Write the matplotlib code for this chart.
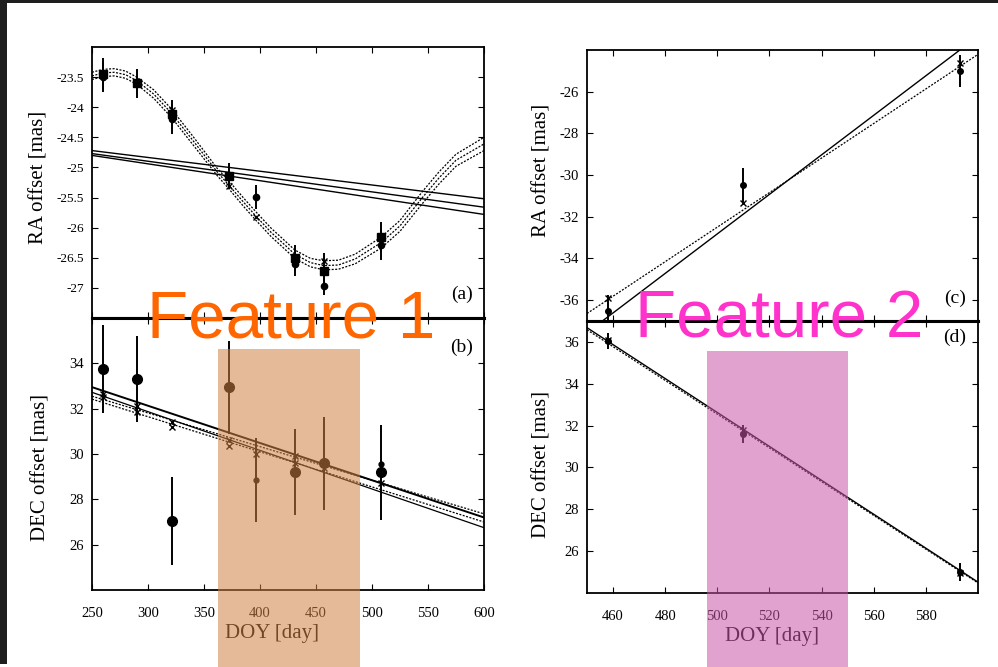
import matplotlib
matplotlib.use('Agg')
import matplotlib.pyplot as plt
from matplotlib.patches import Rectangle

plt.rcParams['font.family'] = ['Liberation Serif', 'DejaVu Serif']
plt.rcParams['axes.unicode_minus'] = False

# ---------------- data ----------------
# panel (a) RA offset, left
a_curve_doy = [250, 260, 270, 280, 290, 305, 321, 340, 362, 372, 385, 396, 410, 420,
               431, 445, 457, 470, 485, 508, 525, 545, 560, 575, 600]
a_curve_hi = [-23.42, -23.37, -23.36, -23.40, -23.50, -23.71, -24.03, -24.48, -25.02,
              -25.22, -25.50, -25.73, -26.01, -26.18, -26.37, -26.51, -26.55, -26.54,
              -26.44, -26.16, -25.88, -25.40, -25.07, -24.78, -24.50]
a_curve_mid = [-23.48, -23.43, -23.42, -23.46, -23.56, -23.78, -24.10, -24.55, -25.08,
               -25.29, -25.57, -25.80, -26.08, -26.25, -26.44, -26.58, -26.63, -26.62,
               -26.52, -26.25, -25.97, -25.50, -25.17, -24.88, -24.61]
a_curve_lo = [-23.54, -23.49, -23.48, -23.52, -23.62, -23.85, -24.17, -24.62, -25.14,
              -25.35, -25.64, -25.87, -26.15, -26.32, -26.51, -26.65, -26.70, -26.69,
              -26.60, -26.34, -26.06, -25.60, -25.27, -24.98, -24.72]
a_line_doy = [250, 600]
a_line1 = [-24.72, -25.52]
a_line2 = [-24.77, -25.66]
a_line3 = [-24.80, -25.78]
a_sq_doy = [260, 290, 321, 372, 431, 457, 508]
a_sq_ra = [-23.45, -23.60, -24.12, -25.14, -26.50, -26.72, -26.15]
a_sq_err = [0.27, 0.24, 0.24, 0.22, 0.22, 0.30, 0.25]
a_ci_doy = [260, 321, 396, 431, 457, 508]
a_ci_ra = [-23.50, -24.20, -25.49, -26.60, -26.97, -26.28]
a_ci_err = [0.25, 0.25, 0.20, 0.20, 0.15, 0.25]
a_x_doy = [260, 290, 321, 372, 396, 431, 457, 508]
a_x_ra = [-23.47, -23.62, -24.05, -25.30, -25.82, -26.55, -26.55, -26.25]

# panel (b) DEC offset, left
b_line_doy = [250, 600]
b_line1 = [32.95, 27.20]
b_line2 = [32.72, 26.75]
b_dot1 = [32.55, 27.36]
b_dot2 = [32.42, 27.00]
b_big_doy = [260, 290, 321, 372, 431, 457, 508]
b_big_dec = [33.75, 33.30, 27.05, 32.95, 29.20, 29.60, 29.20]
b_big_err = [1.95, 1.90, 1.95, 2.05, 1.90, 2.05, 2.10]
b_sm_doy = [396, 508]
b_sm_dec = [28.85, 29.55]
b_sm_err = [1.85, 0.0]
b_x_doy = [260, 260, 290, 290, 321, 321, 372, 372, 396, 431, 431, 457, 457, 508]
b_x_dec = [32.65, 32.50, 32.10, 31.85, 31.40, 31.20, 30.60, 30.35, 30.00, 29.90,
           29.60, 29.65, 29.40, 28.70]

# panel (c) RA offset, right
c_line_doy = [450, 600]
c_line_solid = [-37.56, -23.34]
c_line_dot = [-36.64, -24.21]
c_doy = [458, 510, 593]
c_ra = [-36.50, -30.47, -25.00]
c_err = [0.75, 0.80, 0.78]
c_x_ra = [-35.90, -31.35, -24.60]

# panel (d) DEC offset, right
d_line_doy = [450, 600]
d_line_solid = [36.68, 24.52]
d_line_dot = [36.58, 24.48]
d_doy = [458, 510, 593]
d_dec = [36.05, 31.60, 25.00]
d_err = [0.40, 0.45, 0.45]
d_x_dec = [36.10, 31.80, 24.95]

left_xticks = [250, 300, 350, 400, 450, 500, 550, 600]
right_xticks = [460, 480, 500, 520, 540, 560, 580]
a_yticks = [-23.5, -24, -24.5, -25, -25.5, -26, -26.5, -27]
b_yticks = [26, 28, 30, 32, 34]
c_yticks = [-26, -28, -30, -32, -34, -36]
d_yticks = [26, 28, 30, 32, 34, 36]

# ---------------- figure ----------------
W, H = 998, 667
fig = plt.figure(figsize=(W / 100, H / 100), dpi=100)
fig.patch.set_facecolor('white')


def px_axes(l, t, r, b):
    return fig.add_axes([l / W, 1 - b / H, (r - l) / W, (b - t) / H])


axA = px_axes(92, 47, 484, 318)
axB = px_axes(92, 318, 484, 590)
axC = px_axes(587, 50, 978, 321)
axD = px_axes(587, 321, 978, 593)

dotted = (0, (1.6, 1.2))


def style(ax):
    ax.tick_params(direction='in', top=True, right=True, length=4.5, width=0.8,
                   labelsize=10.5)
    ax.tick_params(axis='x', pad=12)
    ax.tick_params(axis='y', pad=6)
    for s in ax.spines.values():
        s.set_linewidth(1.3)


for ax in (axA, axB, axC, axD):
    style(ax)

eb = dict(fmt='none', ecolor='black', elinewidth=1.4, capsize=0)

# (a)
for yv in (a_curve_hi, a_curve_mid, a_curve_lo):
    axA.plot(a_curve_doy, yv, color='black', lw=0.9, ls=dotted)
for yv in (a_line1, a_line2, a_line3):
    axA.plot(a_line_doy, yv, color='black', lw=1.0)
axA.errorbar(a_sq_doy, a_sq_ra, yerr=a_sq_err, **eb)
axA.errorbar(a_ci_doy, a_ci_ra, yerr=a_ci_err, **eb)
axA.plot(a_sq_doy, a_sq_ra, 's', color='black', ms=6)
axA.plot(a_ci_doy, a_ci_ra, 'o', color='black', ms=4.5)
axA.plot(a_x_doy, a_x_ra, 'x', color='black', ms=5, mew=1)
axA.set_xlim(250, 600)
axA.set_ylim(-27.5, -23.0)
axA.set_xticks(left_xticks)
axA.set_xticklabels([])
axA.set_yticks(a_yticks)
axA.set_yticklabels(['-23.5', '-24', '-24.5', '-25', '-25.5', '-26', '-26.5', '-27'])
axA.tick_params(axis='y', labelsize=9.5)
axA.spines['bottom'].set_linewidth(2.2)
axA.set_ylabel('RA offset [mas]', fontsize=15)
axA.yaxis.set_label_coords(-0.112, 0.517)
axA.text(0.944, 0.089, '(a)', transform=axA.transAxes, fontsize=14,
         ha='center', va='center')

# (b)
axB.plot(b_line_doy, b_line1, color='black', lw=1.4)
axB.plot(b_line_doy, b_line2, color='black', lw=0.9)
for yv in (b_dot1, b_dot2):
    axB.plot(b_line_doy, yv, color='black', lw=0.9, ls=dotted)
axB.errorbar(b_big_doy, b_big_dec, yerr=b_big_err, **eb)
axB.errorbar(b_sm_doy, b_sm_dec, yerr=b_sm_err, **eb)
axB.plot(b_big_doy, b_big_dec, 'o', color='black', ms=7)
axB.plot(b_sm_doy, b_sm_dec, 'o', color='black', ms=3.5)
axB.plot(b_x_doy, b_x_dec, 'x', color='black', ms=5, mew=1)
axB.set_xlim(250, 600)
axB.set_ylim(24, 36)
axB.set_xticks(left_xticks)
axB.set_yticks(b_yticks)
axB.spines['top'].set_linewidth(2.2)
axB.set_ylabel('DEC offset [mas]', fontsize=15)
axB.yaxis.set_label_coords(-0.107, 0.45)
axB.set_xlabel('DOY [day]', fontsize=15)
axB.xaxis.set_label_coords(0.459, -0.125)
axB.text(0.944, 0.893, '(b)', transform=axB.transAxes, fontsize=14,
         ha='center', va='center')

# (c)
axC.plot(c_line_doy, c_line_solid, color='black', lw=1.0)
axC.plot(c_line_doy, c_line_dot, color='black', lw=0.9, ls=dotted)
axC.errorbar(c_doy, c_ra, yerr=c_err, **eb)
axC.plot(c_doy, c_ra, 'o', color='black', ms=4)
axC.plot(c_doy, c_x_ra, 'x', color='black', ms=5, mew=1)
axC.set_xlim(450, 600)
axC.set_ylim(-37, -24)
axC.set_xticks(right_xticks)
axC.set_xticklabels([])
axC.set_yticks(c_yticks)
axC.spines['bottom'].set_linewidth(2.2)
axC.set_ylabel('RA offset [mas]', fontsize=15)
axC.yaxis.set_label_coords(-0.092, 0.557)
axC.text(0.941, 0.085, '(c)', transform=axC.transAxes, fontsize=14,
         ha='center', va='center')

# (d)
axD.plot(d_line_doy, d_line_solid, color='black', lw=1.0)
axD.plot(d_line_doy, d_line_dot, color='black', lw=0.9, ls=dotted)
axD.errorbar(d_doy, d_dec, yerr=d_err, **eb)
axD.plot(d_doy, d_dec, 'o', color='black', ms=4)
axD.plot(d_doy, d_x_dec, 'x', color='black', ms=5, mew=1)
axD.set_xlim(450, 600)
axD.set_ylim(24, 37)
axD.set_xticks(right_xticks)
axD.set_yticks(d_yticks)
axD.spines['top'].set_linewidth(2.2)
axD.set_ylabel('DEC offset [mas]', fontsize=15)
axD.yaxis.set_label_coords(-0.092, 0.474)
axD.set_xlabel('DOY [day]', fontsize=15)
axD.xaxis.set_label_coords(0.473, -0.125)
axD.text(0.941, 0.941, '(d)', transform=axD.transAxes, fontsize=14,
         ha='center', va='center')

# overlays
fig.add_artist(Rectangle((218 / W, 0), (360 - 218) / W, 1 - 349 / H,
                         transform=fig.transFigure, facecolor='#D08244',
                         alpha=0.55, edgecolor='none', zorder=5))
fig.add_artist(Rectangle((707 / W, 0), (848 - 707) / W, 1 - 351 / H,
                         transform=fig.transFigure, facecolor='#CA56A8',
                         alpha=0.55, edgecolor='none', zorder=5))
fig.text(147 / W, 1 - 338 / H, 'Feature 1', fontsize=48.5, color='#FF6600',
         family=['Liberation Sans', 'DejaVu Sans'], ha='left', va='baseline', zorder=6)
fig.text(635 / W, 1 - 338 / H, 'Feature 2', fontsize=48.5, color='#FF33CC',
         family=['Liberation Sans', 'DejaVu Sans'], ha='left', va='baseline', zorder=6)

# dark screenshot border (top and left)
fig.add_artist(Rectangle((0, 3 / H), 7 / W, 1, transform=fig.transFigure,
                         facecolor='#1e1e1e', edgecolor='none', zorder=7))
fig.add_artist(Rectangle((0, 1 - 3 / H), 1, 3 / H, transform=fig.transFigure,
                         facecolor='#1e1e1e', edgecolor='none', zorder=7))

fig.savefig('out.png', dpi=100)
